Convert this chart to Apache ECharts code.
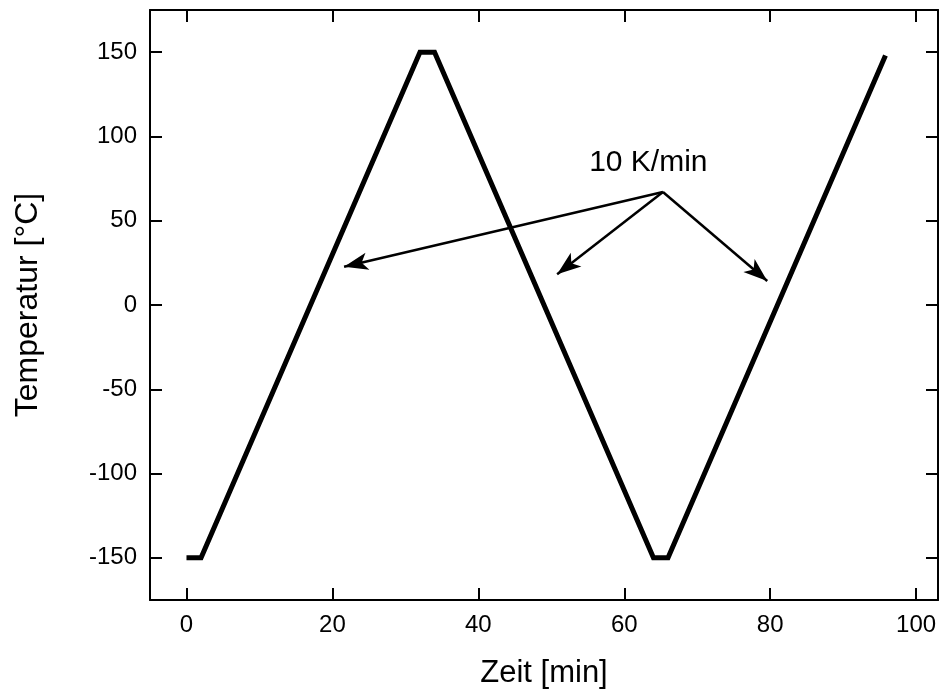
<!DOCTYPE html>
<html>
<head>
<meta charset="utf-8">
<script src="https://cdn.jsdelivr.net/npm/echarts@6/dist/echarts.min.js"></script>
<style>
  html, body { margin: 0; padding: 0; background: #fff; }
  #main { width: 940px; height: 691px; }
</style>
</head>
<body>
<div id="main"></div>
<script>
// Zeit [min] / Temperatur [°C] program
var zeit = [0, 2, 32, 34, 64, 66, 95.8];
var temperatur = [-150, -150, 150, 150, -150, -150, 148];

var xTicks = [0, 20, 40, 60, 80, 100];
var yTicks = [-150, -100, -50, 0, 50, 100, 150];

// annotation "10 K/min" and arrows (start -> tips)
var labelPos = [63.3, 84.5];
var arrowFrom = [65.3, 67];
var arrowTips = [[21.6, 22.7], [50.8, 18.2], [79.6, 14.2]];

var font = 'Liberation Sans, Arial, sans-serif';

var chart = echarts.init(document.getElementById('main'));

var arrowLines = arrowTips.map(function (t) {
  return [
    { coord: arrowFrom, symbol: 'none' },
    { coord: t, symbol: 'arrow', symbolSize: [13, 24] }
  ];
});

var option = {
  animation: false,
  textStyle: { fontFamily: font },
  grid: { left: 150, right: 2, top: 10, bottom: 91, outerBoundsMode: 'none', containLabel: false },
  xAxis: [{
    type: 'value',
    min: -5,
    max: 103,
    name: 'Zeit [min]',
    nameLocation: 'middle',
    nameGap: 58,
    nameTextStyle: { fontSize: 31, color: '#000', fontFamily: font },
    axisLine: { show: true, onZero: false, lineStyle: { color: '#000', width: 2 } },
    axisTick: { show: true, inside: true, length: 12, customValues: xTicks, lineStyle: { color: '#000', width: 2 } },
    axisLabel: { customValues: xTicks, fontSize: 24, color: '#000', margin: 13, fontFamily: font },
    splitLine: { show: false }
  }, {
    type: 'value',
    position: 'top',
    min: -5,
    max: 103,
    axisLine: { show: true, onZero: false, lineStyle: { color: '#000', width: 2 } },
    axisTick: { show: true, inside: true, length: 12, customValues: xTicks, lineStyle: { color: '#000', width: 2 } },
    axisLabel: { show: false },
    splitLine: { show: false }
  }],
  yAxis: [{
    type: 'value',
    min: -175,
    max: 175,
    name: 'Temperatur [°C]',
    nameLocation: 'middle',
    nameGap: 106,
    nameTextStyle: { fontSize: 32, color: '#000', fontFamily: font },
    axisLine: { show: true, onZero: false, lineStyle: { color: '#000', width: 2 } },
    axisTick: { show: true, inside: true, length: 12, customValues: yTicks, lineStyle: { color: '#000', width: 2 } },
    axisLabel: { customValues: yTicks, fontSize: 24, color: '#000', margin: 13, fontFamily: font },
    splitLine: { show: false }
  }, {
    type: 'value',
    position: 'right',
    min: -175,
    max: 175,
    axisLine: { show: true, onZero: false, lineStyle: { color: '#000', width: 2 } },
    axisTick: { show: true, inside: true, length: 12, customValues: yTicks, lineStyle: { color: '#000', width: 2 } },
    axisLabel: { show: false },
    splitLine: { show: false }
  }],
  series: [{
    type: 'line',
    data: zeit.map(function (x, i) { return [x, temperatur[i]]; }),
    showSymbol: false,
    lineStyle: { color: '#000', width: 5, join: 'miter' },
    markLine: {
      silent: true,
      animation: false,
      label: { show: false },
      lineStyle: { color: '#000', width: 2.5, type: 'solid' },
      emphasis: { disabled: true },
      data: arrowLines
    },
    markPoint: {
      silent: true,
      symbol: 'rect',
      symbolSize: 0,
      data: [{
        coord: labelPos,
        label: {
          show: true,
          formatter: '10 K/min',
          fontSize: 30,
          color: '#000',
          fontFamily: font
        }
      }]
    }
  }]
};

chart.setOption(option);
</script>
</body>
</html>
